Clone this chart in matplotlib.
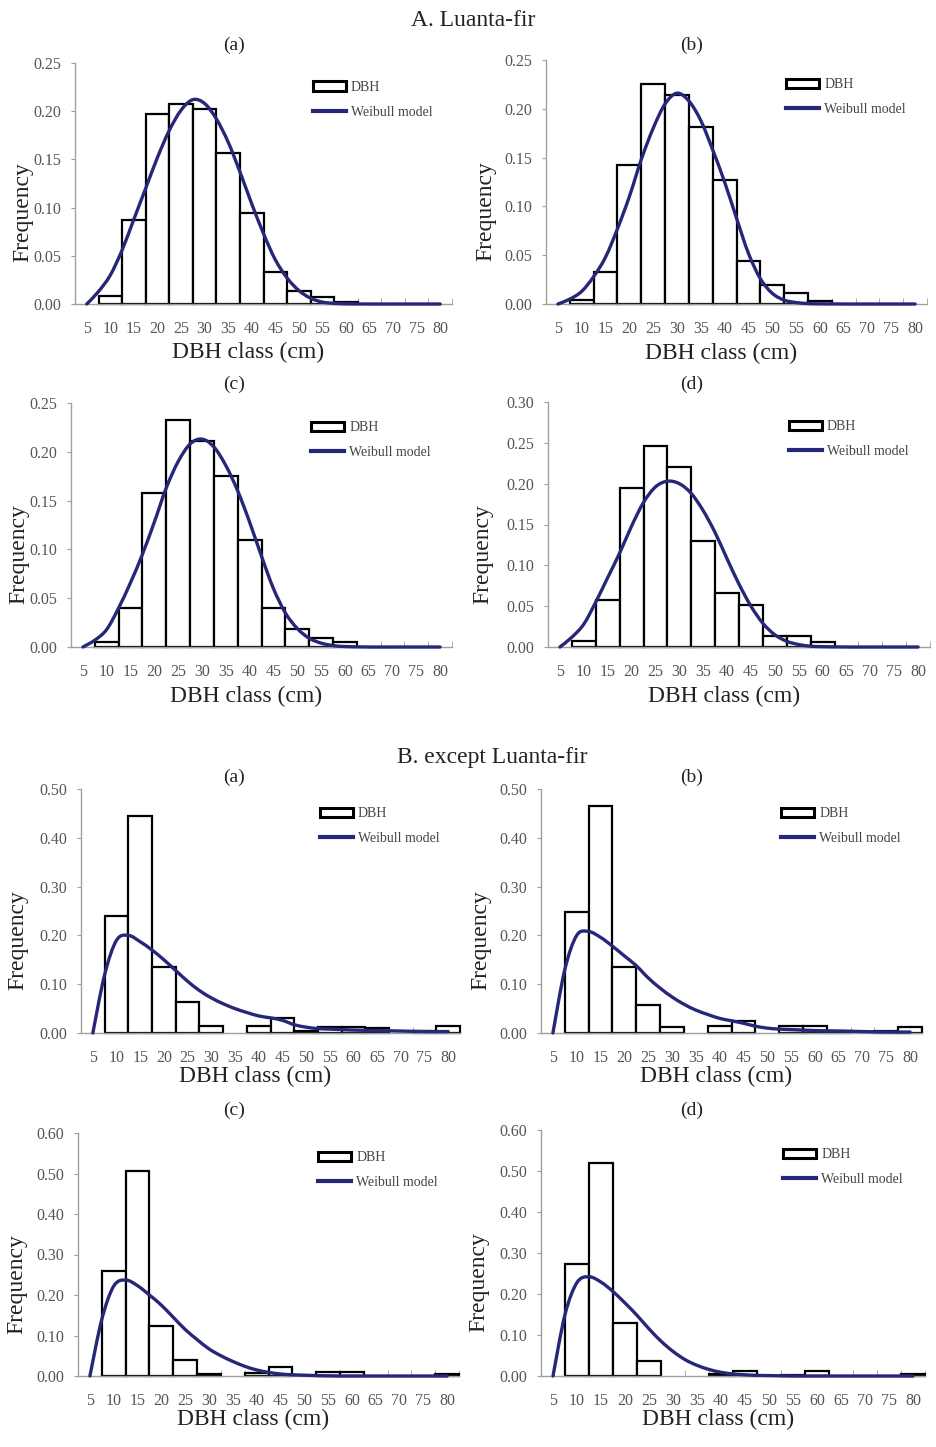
import numpy as np
import matplotlib
matplotlib.use("Agg")
from matplotlib import pyplot as plt
from matplotlib.patches import Rectangle, PathPatch
from matplotlib.path import Path
from matplotlib.lines import Line2D

plt.rcParams['font.family'] = ['Liberation Serif', 'DejaVu Serif']

# DBH classes (cm)
classes = [5, 10, 15, 20, 25, 30, 35, 40, 45, 50, 55, 60, 65, 70, 75, 80]
bar_classes = classes[1:]

# observed frequency per class 10..80
bars_Aa = [0.008, 0.087, 0.197, 0.207, 0.202, 0.157, 0.094, 0.033, 0.013, 0.007, 0.002, 0, 0, 0, 0]
bars_Ab = [0.004, 0.033, 0.142, 0.225, 0.214, 0.181, 0.127, 0.044, 0.019, 0.011, 0.003, 0, 0, 0, 0]
bars_Ac = [0.005, 0.040, 0.158, 0.233, 0.211, 0.175, 0.110, 0.040, 0.018, 0.009, 0.005, 0, 0, 0, 0]
bars_Ad = [0.007, 0.058, 0.195, 0.246, 0.220, 0.130, 0.066, 0.052, 0.013, 0.013, 0.006, 0, 0, 0, 0]
bars_Ba = [0.240, 0.445, 0.135, 0.063, 0.015, 0, 0.015, 0.030, 0.005, 0.013, 0.013, 0.010, 0, 0.005, 0.015]
bars_Bb = [0.248, 0.465, 0.135, 0.057, 0.012, 0, 0.015, 0.025, 0, 0.014, 0.014, 0.005, 0, 0.005, 0.012]
bars_Bc = [0.260, 0.507, 0.124, 0.040, 0.005, 0, 0.008, 0.022, 0, 0.010, 0.010, 0, 0, 0, 0.005]
bars_Bd = [0.272, 0.520, 0.130, 0.036, 0, 0, 0.005, 0.013, 0, 0.003, 0.013, 0, 0, 0, 0.005]

# Weibull model curve
curve_x = [5, 7.5, 10, 12.5, 15, 17.5, 20, 22.5, 25, 27.5, 30, 32.5, 35, 37.5, 40, 42.5,
           45, 47.5, 50, 52.5, 55, 57.5, 60, 65, 70, 75, 80]
wb_Aa = [0, 0.013, 0.030, 0.056, 0.088, 0.120, 0.152, 0.180, 0.201, 0.212, 0.208, 0.192, 0.168, 0.137,
         0.104, 0.073, 0.046, 0.027, 0.014, 0.006, 0.002, 0.0007, 0.0002, 0, 0, 0, 0]
wb_Ab = [0, 0.005, 0.013, 0.028, 0.048, 0.077, 0.110, 0.148, 0.180, 0.205, 0.216, 0.208, 0.188, 0.158,
         0.125, 0.088, 0.052, 0.026, 0.011, 0.004, 0.0015, 0.0005, 0.0002, 0, 0, 0, 0]
wb_Ac = [0, 0.007, 0.018, 0.040, 0.066, 0.095, 0.128, 0.163, 0.190, 0.208, 0.213, 0.205, 0.186, 0.160,
         0.128, 0.093, 0.060, 0.035, 0.019, 0.009, 0.004, 0.0015, 0.0005, 0, 0, 0, 0]
wb_Ad = [0, 0.012, 0.028, 0.055, 0.085, 0.115, 0.148, 0.177, 0.196, 0.203, 0.200, 0.188, 0.167, 0.140,
         0.108, 0.077, 0.050, 0.029, 0.015, 0.007, 0.003, 0.001, 0.0004, 0, 0, 0, 0]
wb_Ba = [0, 0.120, 0.190, 0.200, 0.187, 0.170, 0.150, 0.128, 0.106, 0.087, 0.072, 0.060, 0.050, 0.042,
         0.035, 0.031, 0.026, 0.017, 0.012, 0.009, 0.008, 0.007, 0.006, 0.005, 0.004, 0.003, 0.003]
wb_Bb = [0, 0.130, 0.200, 0.208, 0.196, 0.178, 0.158, 0.138, 0.113, 0.092, 0.074, 0.059, 0.047, 0.038,
         0.030, 0.025, 0.020, 0.014, 0.010, 0.008, 0.007, 0.006, 0.005, 0.004, 0.003, 0.002, 0.002]
wb_Bc = [0, 0.140, 0.222, 0.237, 0.223, 0.200, 0.175, 0.145, 0.115, 0.090, 0.067, 0.050, 0.036, 0.024,
         0.015, 0.009, 0.005, 0.003, 0.002, 0.001, 0.0005, 0, 0, 0, 0, 0, 0]
wb_Bd = [0, 0.150, 0.228, 0.242, 0.229, 0.206, 0.178, 0.148, 0.115, 0.085, 0.060, 0.040, 0.026, 0.016,
         0.009, 0.005, 0.003, 0.0015, 0.001, 0.0005, 0, 0, 0, 0, 0, 0, 0]

all_bars = [bars_Aa, bars_Ab, bars_Ac, bars_Ad, bars_Ba, bars_Bb, bars_Bc, bars_Bd]
all_wb = [wb_Aa, wb_Ab, wb_Ac, wb_Ad, wb_Ba, wb_Bb, wb_Bc, wb_Bd]
ymax = [0.25, 0.25, 0.25, 0.30, 0.50, 0.50, 0.60, 0.60]
ystep = [0.05, 0.05, 0.05, 0.05, 0.10, 0.10, 0.10, 0.10]
panel_tags = ['(a)', '(b)', '(c)', '(d)', '(a)', '(b)', '(c)', '(d)']

# axes boxes in pixels: left, right, top, bottom
W, H = 936, 1447
boxes = [(75, 452, 63, 304), (546, 927, 60, 304),
         (71, 452, 403, 647), (548, 930, 402, 647),
         (81, 460, 789, 1033), (541, 922, 789, 1033),
         (78, 459, 1133, 1376), (541, 925, 1130, 1376)]
tag_pos = [(234, 45), (692, 45), (234, 384), (692, 384),
           (234, 777), (692, 777), (234, 1110), (692, 1110)]
# right edge (px) of the rotated "Frequency" label
ylab_right = [33, 496, 29, 493, 28, 491, 27, 489]

navy = '#27277a'
grey = '#a0a0a0'


def smooth_path(x, y):
    # Excel-like smoothed line: cubic Bezier segments through the read points
    x = np.asarray(x, float)
    y = np.asarray(y, float)
    pts = np.column_stack([x, y])
    n = len(pts)
    verts = [pts[0]]
    codes = [Path.MOVETO]
    for k in range(n - 1):
        p0 = pts[max(k - 1, 0)]
        p1 = pts[k]
        p2 = pts[k + 1]
        p3 = pts[min(k + 2, n - 1)]
        c1 = p1 + (p2 - p0) / 6.0
        c2 = p2 - (p3 - p1) / 6.0
        verts += [c1, c2, p2]
        codes += [Path.CURVE4] * 3
    return Path(verts, codes)


fig = plt.figure(figsize=(W / 100, H / 100), dpi=100)

fig.text(473 / W, 1 - 21 / H, 'A. Luanta-fir', ha='center', va='center', fontsize=17, color='#222222')
fig.text(492 / W, 1 - 757 / H, 'B. except Luanta-fir', ha='center', va='center', fontsize=17, color='#222222')

for i in range(8):
    l, r, t, b = boxes[i]
    ax = fig.add_axes([l / W, 1 - b / H, (r - l) / W, (b - t) / H])

    vals = np.array(all_bars[i])
    xs = np.array(bar_classes)
    keep = vals > 0
    ax.bar(xs[keep], vals[keep], width=5, facecolor='white', edgecolor='black',
           linewidth=1.6, clip_on=False, zorder=2)
    curve = PathPatch(smooth_path(curve_x, all_wb[i]), facecolor='none', edgecolor=navy,
                      linewidth=2.4, capstyle='round', joinstyle='round',
                      clip_on=False, zorder=3)
    ax.add_patch(curve)

    ax.set_xlim(2.5, 82.5)
    ax.set_ylim(0, ymax[i])
    ax.set_xticks(classes)
    ax.set_xticks(np.arange(7.5, 83, 5), minor=True)
    ax.set_yticks(np.arange(0, ymax[i] + 1e-9, ystep[i]))
    ax.yaxis.set_major_formatter(matplotlib.ticker.FormatStrFormatter('%.2f'))

    for s in ['top', 'right']:
        ax.spines[s].set_visible(False)
    for s in ['left', 'bottom']:
        ax.spines[s].set_color(grey)
        ax.spines[s].set_linewidth(1.0)

    ax.tick_params(axis='x', which='major', length=0, pad=12, labelsize=11.5, labelcolor='#555555')
    ax.tick_params(axis='x', which='minor', direction='in', length=4, color=grey)
    ax.tick_params(axis='y', which='major', direction='out', length=3, color=grey, pad=7,
                   labelsize=11.5, labelcolor='#555555')

    ax.set_ylabel('Frequency', fontsize=17, color='#222222')
    ax.yaxis.set_label_coords((ylab_right[i] - l) / (r - l), 0.38)
    ax.set_xlabel('DBH class (cm)', fontsize=17, color='#222222')
    ax.xaxis.set_label_coords(0.46, -0.158 if i < 4 else -0.135)

    handles = [Rectangle((0, 0), 1, 1, facecolor='white', edgecolor='black', linewidth=2.2),
               Line2D([0], [0], color=navy, linewidth=3)]
    leg = ax.legend(handles, ['DBH', 'Weibull model'], loc='upper left',
                    bbox_to_anchor=(0.63, 0.925), frameon=False, fontsize=10,
                    handlelength=2.4, handletextpad=0.35, labelspacing=0.85,
                    borderpad=0, borderaxespad=0)
    for txt in leg.get_texts():
        txt.set_color('#444444')

    tx, ty = tag_pos[i]
    fig.text(tx / W, 1 - ty / H, panel_tags[i], ha='center', va='center', fontsize=14, color='#222222')

fig.savefig('out.png', dpi=100)
